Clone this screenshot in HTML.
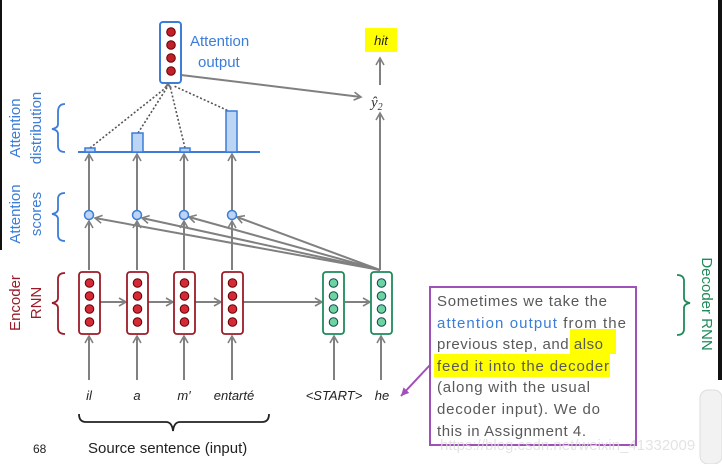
<!DOCTYPE html>
<html><head><meta charset="utf-8"><style>
body{margin:0;width:722px;height:464px;overflow:hidden;background:#fff;font-family:"Liberation Sans",sans-serif}
</style></head><body>
<svg width="722" height="464" xmlns="http://www.w3.org/2000/svg" font-family="Liberation Sans, sans-serif">
<defs>
<marker id="a" markerWidth="10" markerHeight="10" refX="8" refY="5" orient="auto" markerUnits="userSpaceOnUse"><path d="M1,1 L8,5 L1,9" fill="none" stroke="#808080" stroke-width="1.6"/></marker>
<marker id="p" markerWidth="10" markerHeight="10" refX="8" refY="5" orient="auto" markerUnits="userSpaceOnUse"><path d="M0,1 L8,5 L0,9 z" fill="#a050b8"/></marker>
</defs>
<rect x="0" y="0" width="2" height="250" fill="#111"/>
<rect x="718" y="0" width="4" height="380" fill="#111"/>
<rect x="700" y="390" width="22" height="74" rx="8" fill="#f2f2f2" stroke="#ddd"/>
<g stroke="#808080" stroke-width="2" fill="none">
<line x1="181" y1="75" x2="361" y2="97" marker-end="url(#a)"/>
<line x1="380" y1="85" x2="380" y2="58" marker-end="url(#a)"/>
<line x1="380" y1="270" x2="380" y2="113" marker-end="url(#a)"/>
<line x1="380" y1="270" x2="95" y2="218" marker-end="url(#a)"/>
<line x1="380" y1="270" x2="142" y2="218" marker-end="url(#a)"/>
<line x1="380" y1="270" x2="189" y2="217" marker-end="url(#a)"/>
<line x1="380" y1="270" x2="237" y2="217" marker-end="url(#a)"/>
</g>
<g stroke="#808080" stroke-width="2" marker-end="url(#a)">
<line x1="89" y1="270" x2="89" y2="221"/><line x1="137" y1="270" x2="137" y2="221"/><line x1="184" y1="270" x2="184" y2="221"/><line x1="232" y1="270" x2="232" y2="221"/>
<line x1="89" y1="210" x2="89" y2="154"/><line x1="137" y1="210" x2="137" y2="154"/><line x1="184" y1="210" x2="184" y2="154"/><line x1="232" y1="210" x2="232" y2="154"/>
<line x1="89" y1="380" x2="89" y2="336"/><line x1="137" y1="380" x2="137" y2="336"/><line x1="184" y1="380" x2="184" y2="336"/><line x1="232" y1="380" x2="232" y2="336"/><line x1="334" y1="380" x2="334" y2="336"/><line x1="381" y1="380" x2="381" y2="336"/>
<line x1="100" y1="302" x2="126" y2="302"/><line x1="148" y1="302" x2="173" y2="302"/><line x1="195" y1="302" x2="221" y2="302"/><line x1="243" y1="302" x2="322" y2="302"/><line x1="345" y1="302" x2="370" y2="302"/>
</g>
<g stroke="#555" stroke-width="1.6" stroke-dasharray="2,2">
<line x1="90" y1="148" x2="168" y2="86"/><line x1="138" y1="133" x2="168" y2="86"/><line x1="185" y1="148" x2="170" y2="86"/><line x1="231" y1="112" x2="174" y2="86"/>
</g>
<path d="M165,88 L168,84 L171,88" fill="none" stroke="#707070" stroke-width="2"/>
<line x1="78" y1="152" x2="260" y2="152" stroke="#3b7dd8" stroke-width="2"/>
<g fill="#bcd5f5" stroke="#3b7dd8" stroke-width="1.5">
<rect x="85" y="148" width="10" height="4"/><rect x="132" y="133" width="11" height="19"/><rect x="180" y="148" width="10" height="4"/><rect x="226" y="111" width="11" height="41"/>
<circle cx="89" cy="215" r="4.5"/><circle cx="137" cy="215" r="4.5"/><circle cx="184" cy="215" r="4.5"/><circle cx="232" cy="215" r="4.5"/>
</g>
<rect x="160" y="22" width="21" height="61" rx="3" fill="#fff" stroke="#3b7dd8" stroke-width="2"/>
<g fill="#c0202a" stroke="#600" stroke-width="1"><circle cx="171" cy="32" r="4.3"/><circle cx="171" cy="45" r="4.3"/><circle cx="171" cy="58" r="4.3"/><circle cx="171" cy="71" r="4.3"/></g>
<g fill="#fff" stroke="#9b1c28" stroke-width="1.8">
<rect x="79" y="272" width="21" height="62" rx="3"/><rect x="127" y="272" width="21" height="62" rx="3"/><rect x="174" y="272" width="21" height="62" rx="3"/><rect x="222" y="272" width="21" height="62" rx="3"/>
</g>
<g fill="#d42a38" stroke="#600" stroke-width="1">
<circle cx="89.5" cy="283" r="4.3"/><circle cx="89.5" cy="296" r="4.3"/><circle cx="89.5" cy="309" r="4.3"/><circle cx="89.5" cy="322" r="4.3"/>
<circle cx="137.5" cy="283" r="4.3"/><circle cx="137.5" cy="296" r="4.3"/><circle cx="137.5" cy="309" r="4.3"/><circle cx="137.5" cy="322" r="4.3"/>
<circle cx="184.5" cy="283" r="4.3"/><circle cx="184.5" cy="296" r="4.3"/><circle cx="184.5" cy="309" r="4.3"/><circle cx="184.5" cy="322" r="4.3"/>
<circle cx="232.5" cy="283" r="4.3"/><circle cx="232.5" cy="296" r="4.3"/><circle cx="232.5" cy="309" r="4.3"/><circle cx="232.5" cy="322" r="4.3"/>
</g>
<g fill="#fff" stroke="#1f8a5a" stroke-width="1.8"><rect x="323" y="272" width="21" height="62" rx="3"/><rect x="371" y="272" width="21" height="62" rx="3"/></g>
<g fill="#6fd3a0" stroke="#145" stroke-width="1">
<circle cx="333.5" cy="283" r="4.3"/><circle cx="333.5" cy="296" r="4.3"/><circle cx="333.5" cy="309" r="4.3"/><circle cx="333.5" cy="322" r="4.3"/>
<circle cx="381.5" cy="283" r="4.3"/><circle cx="381.5" cy="296" r="4.3"/><circle cx="381.5" cy="309" r="4.3"/><circle cx="381.5" cy="322" r="4.3"/>
</g>
<g fill="none" stroke-width="1.8">
<path d="M65,104 Q58,104 58,112 L58,124 Q58,128 52,129 Q58,130 58,134 L58,146 Q58,152 65,152" stroke="#3b7dd8"/>
<path d="M65,193 Q58,193 58,199 L58,209 Q58,213 52,214 Q58,215 58,219 L58,235 Q58,241 65,241" stroke="#3b7dd8"/>
<path d="M65,273 Q58,273 58,279 L58,298 Q58,302 52,303 Q58,304 58,308 L58,328 Q58,334 65,334" stroke="#9b1c28"/>
<path d="M677,275 Q684,275 684,281 L684,298 Q684,302 690,303 Q684,304 684,308 L684,329 Q684,335 677,335" stroke="#1f8a5a"/>
<path d="M79,414 Q79,422 86,422 L166,422 Q172,422 173,431 Q174,422 180,422 L262,422 Q269,422 269,414" stroke="#222"/>
</g>
<rect x="365" y="28" width="32" height="24" fill="#ffff00"/>
<text x="381" y="45" font-size="13" font-style="italic" text-anchor="middle" fill="#222">hit</text>
<text x="371" y="107" font-size="15" font-style="italic" font-family="Liberation Serif,serif" fill="#333">ŷ<tspan font-size="10" dy="3">2</tspan></text>
<g font-size="15" fill="#3b7dd8"><text x="190" y="46">Attention</text><text x="198" y="67">output</text></g>
<g font-size="15" fill="#3b7dd8" text-anchor="middle">
<text transform="translate(20,128) rotate(-90)">Attention</text><text transform="translate(41,128) rotate(-90)">distribution</text>
<text transform="translate(20,214) rotate(-90)">Attention</text><text transform="translate(41,214) rotate(-90)">scores</text>
</g>
<g font-size="15" fill="#9b1c28" text-anchor="middle"><text transform="translate(20,303) rotate(-90)">Encoder</text><text transform="translate(41,303) rotate(-90)">RNN</text></g>
<text transform="translate(702,304) rotate(90)" font-size="15" fill="#1f8a5a" text-anchor="middle">Decoder RNN</text>
<g font-size="13" font-style="italic" fill="#222" text-anchor="middle">
<text x="89" y="400">il</text><text x="137" y="400">a</text><text x="184" y="400">m′</text><text x="234" y="400">entarté</text><text x="334" y="400">&lt;START&gt;</text><text x="382" y="400">he</text>
</g>
<text x="33" y="453" font-size="12" fill="#222">68</text>
<text x="88" y="453" font-size="15" fill="#222">Source sentence (input)</text>
<line x1="430" y1="365" x2="401" y2="396" stroke="#a050b8" stroke-width="2" marker-end="url(#p)"/>
<rect x="430" y="287" width="206" height="158" fill="#fff" stroke="#a050b8" stroke-width="2"/>
<rect x="570" y="329" width="46" height="25" fill="#ffff00"/>
<rect x="434" y="354" width="176" height="23" fill="#ffff00"/>
<g font-size="15" fill="#595959" lengthAdjust="spacing">
<text x="437" y="306" textLength="170">Sometimes we take the</text>
<text x="437" y="328" textLength="189"><tspan fill="#3b7dd8">attention output</tspan> from the</text>
<text x="437" y="349" textLength="166">previous step, and also</text>
<text x="437" y="371" textLength="172">feed it into the decoder</text>
<text x="437" y="392" textLength="153">(along with the usual</text>
<text x="437" y="414" textLength="163">decoder input). We do</text>
<text x="437" y="436" textLength="149">this in Assignment 4.</text>
</g>
<text x="440" y="450" font-size="15" fill="#ddd" opacity="0.8">https://blog.csdn.net/weixin_41332009</text>
</svg>
</body></html>
